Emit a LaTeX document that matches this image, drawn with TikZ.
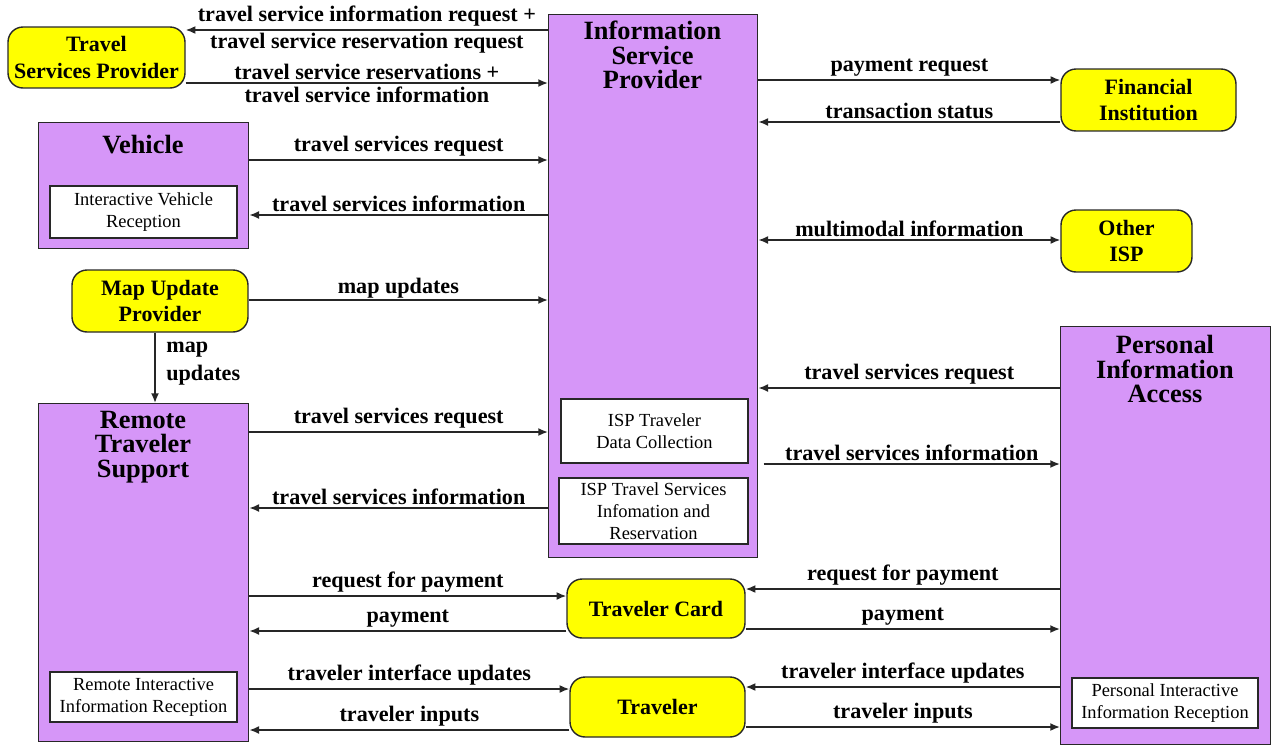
\documentclass[tikz,border=0pt]{standalone}
\usepackage{fontspec}
\setmainfont{Liberation Serif}
\usetikzlibrary{arrows.meta,positioning}

\definecolor{boxviolet}{RGB}{214,150,248}
\definecolor{ovalyellow}{RGB}{255,255,0}
\definecolor{edgegray}{RGB}{40,40,40}

\tikzset{
  bigbox/.style={draw=edgegray,line width=0.8pt,fill=boxviolet,anchor=north west,inner sep=0pt},
  subbox/.style={draw=edgegray,line width=0.7pt,fill=white,align=center,inner sep=0pt,font=\fontsize{10.5}{12.5}\selectfont},
  oval/.style={draw=edgegray,line width=0.8pt,fill=ovalyellow,rounded corners=0.3cm,align=center,inner sep=0pt,font=\bfseries\fontsize{12.5}{15}\selectfont},
  ttl/.style={align=center,inner sep=0pt,font=\bfseries\fontsize{15}{14}\selectfont},
  lbl/.style={inner sep=1.5pt,font=\bfseries\fontsize{12.6}{16}\selectfont},
  flow/.style={-{Latex[length=5.5pt,width=4.5pt]},line width=0.9pt,draw=black!85},
  flowboth/.style={{Latex[length=5.5pt,width=4.5pt]}-{Latex[length=5.5pt,width=4.5pt]},line width=0.9pt,draw=black!85}
}

\begin{document}
\begin{tikzpicture}[x=0.02cm,y=-0.02cm]
    \useasboundingbox (0,0) rectangle (1274,744);

    % big boxes
    \node[bigbox,minimum width=4.18cm,minimum height=10.86cm] (isp) at (548,14) {};
    \node[ttl] (isptitle) at (652.5,55) {Information\\Service\\Provider};
    \node[subbox,minimum width=3.74cm,minimum height=1.28cm] (ispcollect) at (654.5,431) {ISP Traveler\\Data Collection};
    \node[subbox,minimum width=3.78cm,minimum height=1.32cm] (ispreserve) at (653.5,511) {ISP Travel Services\\Infomation and\\Reservation};

    \node[bigbox,minimum width=4.2cm,minimum height=2.52cm] (veh) at (38,122) {};
    \node[ttl] (vehtitle) at (143,145) {Vehicle};
    \node[subbox,minimum width=3.74cm,minimum height=1.04cm] (vehrecv) at (143.5,212) {Interactive Vehicle\\Reception};

    \node[bigbox,minimum width=4.2cm,minimum height=6.76cm] (rts) at (38,403) {};
    \node[ttl] (rtstitle) at (143,447) {Remote\\Traveler\\Support};
    \node[subbox,minimum width=3.74cm,minimum height=1.0cm] (rtsrecv) at (143.5,697) {Remote Interactive\\Information Reception};

    \node[bigbox,minimum width=4.2cm,minimum height=8.36cm] (pia) at (1060,326) {};
    \node[ttl] (piatitle) at (1165,369) {Personal\\Information\\Access};
    \node[subbox,minimum width=3.72cm,minimum height=1.0cm] (piarecv) at (1165,703) {Personal Interactive\\Information Reception};

    % yellow terminators
    \node[oval,minimum width=3.54cm,minimum height=1.22cm] (tsp) at (96.5,57.5) {Travel\\Services Provider};
    \node[oval,minimum width=3.5cm,minimum height=1.24cm] (fi) at (1148.5,100) {Financial\\Institution};
    \node[oval,minimum width=2.62cm,minimum height=1.24cm] (oisp) at (1126.5,241) {Other\\ISP};
    \node[oval,minimum width=3.52cm,minimum height=1.24cm] (map) at (160,301) {Map Update\\Provider};
    \node[oval,minimum width=3.56cm,minimum height=1.18cm] (card) at (656,608.5) {Traveler Card};
    \node[oval,minimum width=3.5cm,minimum height=1.2cm] (trav) at (657.5,707) {Traveler};

    % flows, left side
    \draw[flow] (isp.west |- 0,30) -- (tsp.east |- 0,30)
        node[lbl,midway,above] {travel service information request +}
        node[lbl,midway,below] {travel service reservation request};
    \draw[flow] (tsp.east |- 0,83) -- (isp.west |- 0,83)
        node[lbl,midway,above] {travel service reservations +}
        node[lbl,midway,below] {travel service information};
    \draw[flow] (veh.east |- 0,160) -- (isp.west |- 0,160) node[lbl,midway,above] {travel services request};
    \draw[flow] (isp.west |- 0,215) -- (veh.east |- 0,215) node[lbl,midway,above] {travel services information};
    \draw[flow] (map.east |- 0,300) -- (isp.west |- 0,300) node[lbl,midway,above,inner sep=0.5pt] {map updates};
    \draw[flow] (155,0 |- map.south) -- (155,0 |- rts.north);
    \node[lbl,align=left,anchor=west,inner sep=0pt] (maplbl) at (166,364) {map\\updates};
    \draw[flow] (rts.east |- 0,432) -- (isp.west |- 0,432) node[lbl,midway,above] {travel services request};
    \draw[flow] (isp.west |- 0,508) -- (rts.east |- 0,508) node[lbl,midway,above] {travel services information};

    % flows, right side
    \draw[flow] (isp.east |- 0,80) -- (fi.west |- 0,80) node[lbl,midway,above] {payment request};
    \draw[flow] (fi.west |- 0,122) -- (isp.east |- 0,122) node[lbl,midway,above] {transaction status};
    \draw[flowboth] (isp.east |- 0,240) -- (oisp.west |- 0,240) node[lbl,midway,above] {multimodal information};
    \draw[flow] (pia.west |- 0,388) -- (isp.east |- 0,388) node[lbl,midway,above] {travel services request};
    \draw[flow] ([xshift=3pt]isp.east |- 0,464) -- (pia.west |- 0,464) node[lbl,midway,above] {travel services information};

    % flows, bottom
    \draw[flow] (rts.east |- 0,596) -- (card.west |- 0,596) node[lbl,midway,above] {request for payment};
    \draw[flow] (card.west |- 0,631) -- (rts.east |- 0,631) node[lbl,midway,above] {payment};
    \draw[flow] (pia.west |- 0,589) -- (card.east |- 0,589) node[lbl,midway,above] {request for payment};
    \draw[flow] (card.east |- 0,629) -- (pia.west |- 0,629) node[lbl,midway,above] {payment};
    \draw[flow] (rts.east |- 0,689) -- (trav.west |- 0,689) node[lbl,midway,above] {traveler interface updates};
    \draw[flow] (trav.west |- 0,730) -- (rts.east |- 0,730) node[lbl,midway,above] {traveler inputs};
    \draw[flow] (pia.west |- 0,687) -- (trav.east |- 0,687) node[lbl,midway,above] {traveler interface updates};
    \draw[flow] (trav.east |- 0,727) -- (pia.west |- 0,727) node[lbl,midway,above] {traveler inputs};

\end{tikzpicture}
\end{document}
